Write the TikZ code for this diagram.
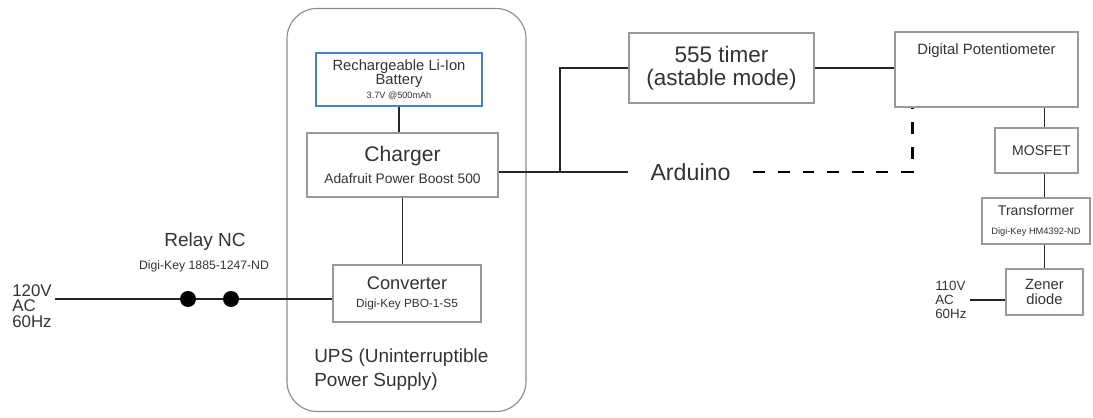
\documentclass[tikz,border=0pt]{standalone}
\usepackage{fontspec}
\setmainfont{Liberation Sans}
\usetikzlibrary{calc}

\definecolor{batblue}{RGB}{70,130,200}
\newcommand{\fs}[2]{\fontsize{#1}{#2}\selectfont}

\tikzset{
	blk/.style={draw=black!40, line width=1.3pt, fill=white, align=center, text=black!80, inner sep=0pt},
	sz/.style 2 args={minimum width=#1*0.025cm, minimum height=#2*0.025cm},
	wire/.style={draw=black!85, line width=0.9pt},
	ctrl/.style={draw=black, line width=2pt, dash pattern=on 8.5pt off 9pt},
	dot/.style={circle, fill=black, inner sep=0pt, minimum size=0.4cm},
	lbl/.style={align=center, text=black!80, inner sep=0pt},
}

\begin{document}
\begin{tikzpicture}[x=0.025cm, y=-0.025cm]
	\useasboundingbox (0,0) rectangle (1093,418);
	
	%%%%% UPS %%%%%
	\node[draw=black!45, line width=0.8pt, rounded corners=0.75cm, sz={239}{403}] (ups) at (406.5,210) {};
	\node[lbl, align=left, anchor=west, font=\fs{13.5}{17}] (upslbl) at (314,370) {UPS (Uninterruptible\\Power Supply)};
	
	\node[blk, draw=batblue, line width=1pt, sz={166}{53}, font=\fs{10.5}{10.6}] (battery) at (399,79.5)
		{Rechargeable Li-Ion\\Battery\\[-1pt]{\fs{6.5}{8}3.7V @500mAh}};
	\node[blk, sz={191}{64}, font=\fs{15}{17}] (charger) at (402.5,165)
		{Charger\\[-1pt]{\fs{9.8}{12}Adafruit Power Boost 500}};
	\node[blk, sz={148}{57}, font=\fs{13}{14}] (converter) at (407,293.5)
		{Converter\\[-1pt]{\fs{8.4}{10}Digi-Key PBO-1-S5}};
	
	\draw[wire] (battery.south) -- (battery.south |- charger.north);
	\draw[wire] (charger.south) -- (charger.south |- converter.north);
	
	%%%%% MAINS + RELAY %%%%%
	\node[lbl, align=left, anchor=west, font=\fs{12}{11}] (ac) at (12,306) {120V\\AC\\60Hz};
	\node[dot] (relay1) at (188,299) {};
	\node[dot] (relay2) at (231,299) {};
	\node[lbl, font=\fs{13.5}{15}] (relaylbl) at (205,242) {Relay NC};
	\node[lbl, font=\fs{8.7}{10}] (relaysub) at (204,266) {Digi-Key 1885-1247-ND};
	\draw[wire] ([xshift=2pt]ac.east |- relay1) -- (relay1) -- (relay2) -- (relay2 -| converter.west);
	
	%%%%% CONTROL %%%%%
	\node[blk, sz={185}{70}, font=\fs{16}{16.5}] (timer) at (721.5,68) {555 timer\\(astable mode)};
	\node[lbl, font=\fs{16.5}{18}, sz={125}{30}] (arduino) at (690.5,172) {Arduino};
	\coordinate (jn) at (560,172);
	\draw[wire] (jn -| charger.east) -- (jn) -- (arduino.west);
	\draw[wire] (jn) |- (timer.west);
	
	\node[blk, sz={183}{75}, label={[lbl, font=\fs{10.6}{12}, anchor=center, yshift=-0.5cm]north:Digital Potentiometer}] (pot) at (986.5,69.5) {};
	\draw[wire] (timer.east) -- (timer.east -| pot.west);
	\draw[ctrl] (arduino.east) -| ($(pot.south west)+(18,0)$);
	
	%%%%% OUTPUT %%%%%
	\node[blk, sz={83}{45}, font=\fs{10}{12}] (mosfet) at (1036.5,150.5) {\hspace*{7pt}MOSFET};
	\node[blk, sz={108}{46}, font=\fs{10}{12}] (transformer) at (1036,221)
		{Transformer\\[1pt]{\fs{6.6}{8}Digi-Key HM4392-ND}};
	\node[blk, sz={77}{46}, font=\fs{10.5}{11.3}] (zener) at (1044.5,292) {Zener\\diode};
	\node[lbl, align=left, anchor=west, font=\fs{9.5}{10}] (ac2) at (935,300) {110V\\AC\\60Hz};
	
	\draw[wire] (pot.south -| zener) -- (mosfet.north -| zener);
	\draw[wire] (mosfet.south -| zener) -- (transformer.north -| zener);
	\draw[wire] (transformer.south -| zener) -- (zener.north);
	\draw[wire] ([xshift=2pt]ac2.east) -- (ac2.east -| zener.west);
\end{tikzpicture}
\end{document}
